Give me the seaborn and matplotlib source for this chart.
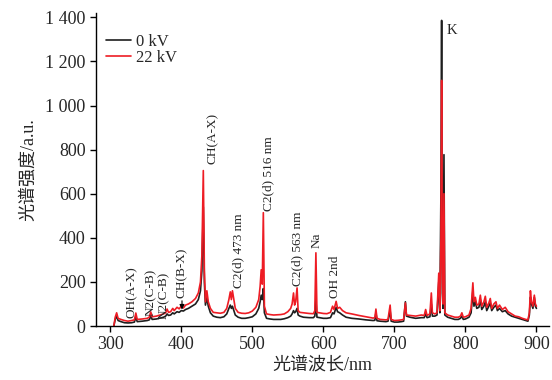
import pandas as pd
import matplotlib.pyplot as plt
import matplotlib.ticker as mticker
import seaborn as sns

# Spectrum (wavelength in nm, intensity in a.u.)
wavelength = [
    305, 307, 309, 311, 315, 320, 325, 330, 334, 336, 338, 345, 352, 355, 357, 359,
    365, 370, 375, 378, 380, 382, 385, 388, 390, 394, 397, 400, 403, 406, 410, 415,
    420, 424, 427, 429, 431, 432.5, 434, 436, 438, 441, 445, 450, 455, 460, 464, 467,
    469, 470.5, 472, 474, 476, 480, 485, 490, 495, 500, 505, 509, 511, 512.5, 514, 515.5,
    517, 520, 525, 530, 540, 545, 550, 554, 556, 558, 559.5, 561, 563, 564.5, 567, 572,
    580, 586, 588, 589.5, 591, 595, 600, 605, 610, 613, 615, 618, 620, 623, 627, 632,
    640, 650, 660, 670, 672.5, 674, 675.5, 680, 688, 691, 694, 695.5, 700, 705, 710, 713,
    715.5, 717, 722, 730, 738, 742, 744, 746, 750, 752, 753.5, 757, 760, 762.5, 764, 765.5,
    766.5, 767.5, 768.5, 769.8, 771, 775, 780, 785, 790, 793, 795, 797, 800, 805, 808, 810.5,
    812, 814, 816, 819, 821, 823, 826, 828, 830, 833, 835, 837, 840, 843, 845, 848,
    852, 856, 860, 865, 870, 875, 880, 885, 888, 890, 891.5, 893, 895, 897, 898.5, 900,
]
intensity_22kv = [
    0, 40, 60, 35, 30, 25, 22, 25, 28, 59, 30, 32, 35, 40, 64, 42,
    45, 50, 55, 60, 77, 62, 65, 80, 70, 85, 78, 90, 82, 95, 100, 110,
    125, 150, 200, 320, 705, 250, 110, 160, 110, 80, 62, 60, 58, 62, 80, 120,
    155, 120, 160, 120, 80, 62, 58, 57, 60, 68, 85, 120, 180, 255, 190, 514,
    90, 55, 52, 50, 52, 55, 65, 80, 100, 150, 95, 110, 173, 70, 62, 60,
    57, 56, 70, 332, 62, 60, 57, 56, 62, 90, 75, 112, 80, 85, 70, 60,
    55, 48, 42, 36, 38, 77, 35, 30, 28, 30, 95, 30, 25, 26, 28, 30,
    105, 50, 48, 45, 50, 48, 75, 48, 55, 150, 60, 55, 60, 240, 70, 400,
    1114, 200, 100, 600, 60, 50, 45, 40, 40, 45, 60, 40, 42, 50, 80, 196,
    110, 130, 95, 100, 140, 90, 110, 135, 85, 105, 125, 80, 100, 110, 80, 95,
    75, 85, 65, 55, 45, 42, 35, 30, 28, 60, 160, 110, 90, 140, 100, 90,
]
intensity_0kv = [
    0, 30, 45, 25, 20, 15, 14, 15, 18, 40, 20, 22, 25, 28, 45, 30,
    32, 36, 40, 45, 55, 48, 50, 60, 55, 65, 62, 70, 68, 75, 80, 90,
    100, 120, 160, 250, 540, 200, 95, 130, 90, 60, 45, 40, 38, 42, 55, 80,
    95, 80, 90, 70, 50, 40, 35, 35, 38, 42, 55, 80, 110, 140, 120, 170,
    60, 35, 32, 30, 30, 33, 38, 45, 55, 70, 60, 65, 80, 50, 45, 40,
    38, 38, 45, 120, 40, 38, 35, 35, 38, 60, 55, 85, 65, 60, 50, 40,
    35, 32, 28, 25, 26, 60, 24, 22, 20, 22, 70, 22, 18, 18, 20, 22,
    110, 45, 40, 35, 38, 38, 55, 38, 42, 100, 45, 45, 50, 200, 60, 600,
    1386, 150, 80, 777, 50, 40, 35, 30, 30, 35, 45, 30, 32, 40, 60, 160,
    90, 110, 80, 85, 120, 75, 90, 110, 70, 90, 105, 70, 85, 95, 70, 80,
    65, 70, 55, 45, 40, 35, 30, 25, 22, 50, 130, 100, 80, 130, 90, 80,
]
series_labels = ['0 kV', '22 kV']

# Peak labels: (text, wavelength, intensity at label foot)
peak_labels = [
    ('OH(A-X)', 330, 36), ('N2(C-B)', 357, 45), ('N2(C-B)', 375, 32),
    ('CH(A-X)', 445, 736), ('C2(d) 473 nm', 480, 173), ('C2(d) 516 nm', 522, 523),
    ('C2(d) 563 nm', 563, 182), ('Na', 591, 355), ('OH 2nd', 617, 127),
]

df = pd.DataFrame({
    'wavelength': wavelength * 2,
    'intensity': intensity_0kv + intensity_22kv,
    'series': [series_labels[0]] * len(wavelength) + [series_labels[1]] * len(wavelength),
})

sns.set_theme(style='ticks')
plt.rcParams['font.family'] = ['Liberation Serif', 'Noto Sans CJK SC']

fig = plt.figure(figsize=(5.52, 3.80), dpi=100)
ax = fig.add_axes([0.174, 0.142, 0.821, 0.824])

sns.lineplot(data=df, x='wavelength', y='intensity', hue='series',
             palette={'0 kV': '#1e1e1e', '22 kV': '#ee1c24'},
             estimator=None, sort=False, linewidth=1.2, ax=ax)

ax.set_xlim(280, 918)
ax.set_ylim(0, 1420)
ax.set_xticks(range(300, 901, 100))
ax.set_yticks(range(0, 1401, 200))
ax.yaxis.set_major_formatter(mticker.FuncFormatter(lambda v, p: f'{v:,.0f}'.replace(',', ' ')))
ax.tick_params(labelsize=13, length=4, width=1, color='black', direction='out')
for s in ['top', 'right']:
    ax.spines[s].set_visible(False)
for s in ['left', 'bottom']:
    ax.spines[s].set_color('black')
    ax.spines[s].set_linewidth(1)

ax.set_xlabel('光谱波长/nm', fontsize=13, labelpad=2)
ax.set_ylabel('光谱强度/a.u.', fontsize=13, labelpad=6)

leg = ax.legend(loc='upper left', bbox_to_anchor=(0.0, 0.965), frameon=False,
                fontsize=12, handlelength=1.5, handletextpad=0.3,
                labelspacing=0.0, borderaxespad=0.2)

for text, x, y in peak_labels:
    ax.text(x, y, text, rotation=90, ha='center', va='bottom', fontsize=9.5)

# CH(B-X) with arrow pointing down to the band head
ax.text(401, 127, 'CH(B-X)', rotation=90, ha='center', va='bottom', fontsize=9.5)
ax.annotate('', xy=(401, 62), xytext=(401, 127),
            arrowprops=dict(arrowstyle='-|>', color='black', lw=0.8, mutation_scale=7))
ax.text(774, 1341, 'K', ha='left', va='center', fontsize=10.5)

fig.savefig('out.png', dpi=100)
